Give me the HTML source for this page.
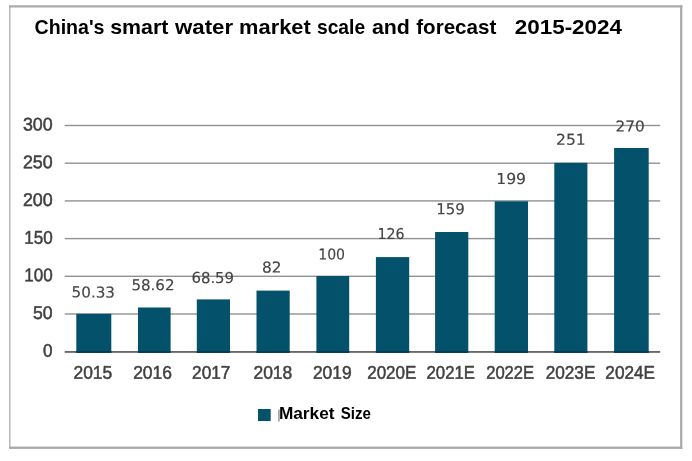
<!DOCTYPE html>
<html><head><meta charset="utf-8"><title>China's smart water market scale and forecast 2015-2024</title>
<style>
html,body{margin:0;padding:0;background:#fff;}
body{width:692px;height:461px;overflow:hidden;position:relative;}
svg{position:absolute;left:0;top:0;display:block;filter:blur(0.65px);}
.ax{font-family:"Liberation Sans",Arial,sans-serif;font-size:18.4px;fill:#404040;stroke:#404040;stroke-width:0.5px;}
.dl{font-family:"DejaVu Sans",Verdana,sans-serif;font-size:15.0px;fill:#444;stroke:#444;stroke-width:0.15px;}
.ti{font-family:"Liberation Sans",Arial,sans-serif;font-weight:bold;font-size:20.8px;fill:#000;}
.lg{font-family:"Liberation Sans",Arial,sans-serif;font-weight:bold;font-size:16px;fill:#000;}
</style></head><body>
<svg width="692" height="461" viewBox="0 0 692 461">
<rect x="0" y="0" width="692" height="461" fill="#fff"/>
<rect x="9.1" y="5.4" width="1.4" height="443" fill="#b2b2b2"/>
<rect x="9.1" y="5.3" width="673.2" height="2.2" fill="#aaa"/>
<rect x="680.1" y="5.3" width="2.2" height="443.5" fill="#a8a8a8"/>
<rect x="9.1" y="446.6" width="673.2" height="2.3" fill="#a8a8a8"/>

<rect x="64.7" y="313.30" width="595.5" height="1.4" fill="#929292"/>
<rect x="64.7" y="275.60" width="595.5" height="1.4" fill="#929292"/>
<rect x="64.7" y="237.90" width="595.5" height="1.4" fill="#929292"/>
<rect x="64.7" y="200.20" width="595.5" height="1.4" fill="#929292"/>
<rect x="64.7" y="162.50" width="595.5" height="1.4" fill="#929292"/>
<rect x="64.7" y="124.80" width="595.5" height="1.4" fill="#929292"/>
<rect x="64.7" y="351.0" width="595.5" height="1.85" fill="#686868"/>
<rect x="76.3" y="313.80" width="35.0" height="39.05" fill="#03516b"/>
<rect x="76.3" y="351.0" width="35.0" height="1.85" fill="#043d52"/>
<rect x="138" y="307.50" width="32.6" height="45.35" fill="#03516b"/>
<rect x="138" y="351.0" width="32.6" height="1.85" fill="#043d52"/>
<rect x="196.8" y="299.40" width="33.2" height="53.45" fill="#03516b"/>
<rect x="196.8" y="351.0" width="33.2" height="1.85" fill="#043d52"/>
<rect x="256.5" y="290.60" width="33.2" height="62.25" fill="#03516b"/>
<rect x="256.5" y="351.0" width="33.2" height="1.85" fill="#043d52"/>
<rect x="316.4" y="276.00" width="32.8" height="76.85" fill="#03516b"/>
<rect x="316.4" y="351.0" width="32.8" height="1.85" fill="#043d52"/>
<rect x="375.9" y="257.10" width="33.3" height="95.75" fill="#03516b"/>
<rect x="375.9" y="351.0" width="33.3" height="1.85" fill="#043d52"/>
<rect x="435.1" y="232.00" width="33.2" height="120.85" fill="#03516b"/>
<rect x="435.1" y="351.0" width="33.2" height="1.85" fill="#043d52"/>
<rect x="494.7" y="201.30" width="33.3" height="151.55" fill="#03516b"/>
<rect x="494.7" y="351.0" width="33.3" height="1.85" fill="#043d52"/>
<rect x="554.3" y="162.80" width="33.1" height="190.05" fill="#03516b"/>
<rect x="554.3" y="351.0" width="33.1" height="1.85" fill="#043d52"/>
<rect x="614.1" y="148.00" width="34.6" height="204.85" fill="#03516b"/>
<rect x="614.1" y="351.0" width="34.6" height="1.85" fill="#043d52"/>
<rect x="258" y="409" width="12.7" height="12" fill="#03516b"/>
<rect x="278.3" y="409.5" width="1.3" height="12" fill="#6b5a50" opacity="0.75"/>
<text class="ax" transform="translate(42.97,356.74) rotate(0.1) scale(0.9254,1)">0</text>
<text class="ax" transform="translate(33.00,319.03) rotate(0.1) scale(0.9556,1)">50</text>
<text class="ax" transform="translate(24.23,281.33) rotate(0.1) scale(0.9258,1)">100</text>
<text class="ax" transform="translate(24.23,243.63) rotate(0.1) scale(0.9258,1)">150</text>
<text class="ax" transform="translate(22.92,205.93) rotate(0.1) scale(0.9695,1)">200</text>
<text class="ax" transform="translate(22.92,168.23) rotate(0.1) scale(0.9695,1)">250</text>
<text class="ax" transform="translate(22.89,130.53) rotate(0.1) scale(0.9706,1)">300</text>
<text class="ax" transform="translate(73.53,378.77) rotate(0.1) scale(0.9457,1)">2015</text>
<text class="ax" transform="translate(133.13,378.77) rotate(0.1) scale(0.9490,1)">2016</text>
<text class="ax" transform="translate(192.04,378.77) rotate(0.1) scale(0.9381,1)">2017</text>
<text class="ax" transform="translate(253.43,378.77) rotate(0.1) scale(0.9483,1)">2018</text>
<text class="ax" transform="translate(312.93,378.77) rotate(0.1) scale(0.9444,1)">2019</text>
<text class="ax" transform="translate(367.25,378.76) rotate(0.1) scale(0.9220,1)">2020E</text>
<text class="ax" transform="translate(426.56,378.76) rotate(0.1) scale(0.9086,1)">2021E</text>
<text class="ax" transform="translate(486.16,378.76) rotate(0.1) scale(0.9029,1)">2022E</text>
<text class="ax" transform="translate(545.74,378.76) rotate(0.1) scale(0.9335,1)">2023E</text>
<text class="ax" transform="translate(605.34,378.76) rotate(0.1) scale(0.9335,1)">2024E</text>
<text class="dl" transform="translate(71.58,297.36) rotate(0.1) scale(1.0118,1)">50.33</text>
<text class="dl" transform="translate(131.39,290.16) rotate(0.1) scale(1.0046,1)">58.62</text>
<text class="dl" transform="translate(191.44,282.86) rotate(0.1) scale(0.9928,1)">68.59</text>
<text class="dl" transform="translate(262.11,272.49) rotate(0.1) scale(1.0210,1)">82</text>
<text class="dl" transform="translate(318.19,259.38) rotate(0.1) scale(0.9387,1)">100</text>
<text class="dl" transform="translate(377.58,238.88) rotate(0.1) scale(0.9457,1)">126</text>
<text class="dl" transform="translate(436.20,214.28) rotate(0.1) scale(0.9980,1)">159</text>
<text class="dl" transform="translate(496.23,183.88) rotate(0.1) scale(1.0402,1)">199</text>
<text class="dl" transform="translate(556.10,144.68) rotate(0.1) scale(1.0368,1)">251</text>
<text class="dl" transform="translate(615.52,131.38) rotate(0.1) scale(1.0172,1)">270</text>
<text class="ti" y="34"><tspan x="34.56" textLength="69.98" lengthAdjust="spacingAndGlyphs">China's</tspan> <tspan x="110.16" textLength="58.18" lengthAdjust="spacingAndGlyphs">smart</tspan> <tspan x="175.01" textLength="58.04" lengthAdjust="spacingAndGlyphs">water</tspan> <tspan x="239.12" textLength="71.61" lengthAdjust="spacingAndGlyphs">market</tspan> <tspan x="316.98" textLength="48.13" lengthAdjust="spacingAndGlyphs">scale</tspan> <tspan x="371.91" textLength="37.98" lengthAdjust="spacingAndGlyphs">and</tspan> <tspan x="416.23" textLength="80.13" lengthAdjust="spacingAndGlyphs">forecast</tspan> <tspan x="514.72" textLength="107.30" lengthAdjust="spacingAndGlyphs">2015-2024</tspan></text>
<text class="lg" y="419"><tspan x="278.92" textLength="55.57" lengthAdjust="spacingAndGlyphs">Market</tspan> <tspan x="340.80" textLength="30.10" lengthAdjust="spacingAndGlyphs">Size</tspan></text>
</svg></body></html>
